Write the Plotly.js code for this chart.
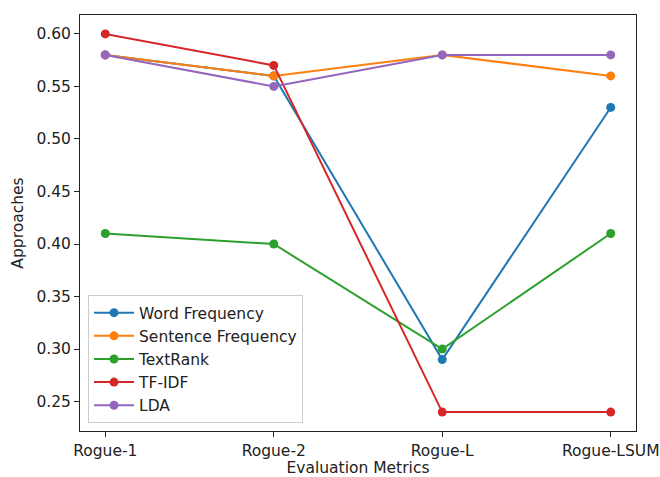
<!DOCTYPE html>
<html><head><meta charset="utf-8">
<script src="https://cdn.plot.ly/plotly-3.0.1.min.js"></script>
<style>body{margin:0;padding:0;background:#fff}#chart{width:660px;height:477px}</style>
</head><body><div id="chart"></div>
<script>
const categories = ["Rogue-1", "Rogue-2", "Rogue-L", "Rogue-LSUM"];
const seriesNames = ["Word Frequency", "Sentence Frequency", "TextRank", "TF-IDF", "LDA"];
const wordFrequency = [0.58, 0.56, 0.29, 0.53];
const sentenceFrequency = [0.58, 0.56, 0.58, 0.56];
const textRank = [0.41, 0.40, 0.30, 0.41];
const tfIdf = [0.60, 0.57, 0.24, 0.24];
const lda = [0.58, 0.55, 0.58, 0.58];
const yTicks = [0.25, 0.30, 0.35, 0.40, 0.45, 0.50, 0.55, 0.60];

const colors = ["#1f77b4", "#ff7f0e", "#2ca02c", "#d62728", "#9467bd"];
const allSeries = [wordFrequency, sentenceFrequency, textRank, tfIdf, lda];
const xIdx = categories.map((c, i) => i);

const traces = allSeries.map((vals, k) => ({
  x: xIdx, y: vals, name: seriesNames[k], type: "scatter", mode: "lines+markers",
  line: {color: colors[k], width: 2},
  marker: {color: colors[k], size: 9}
}));

const font = {family: "DejaVu Sans, sans-serif", size: 15.5, color: "#222"};
const layout = {
  width: 660, height: 477,
  margin: {l: 80, r: 24, t: 15, b: 46},
  paper_bgcolor: "#fff", plot_bgcolor: "#fff",
  font: font,
  showlegend: true,
  legend: {x: 0.0144, y: 0.019, xanchor: "left", yanchor: "bottom",
    bgcolor: "rgba(255,255,255,0.8)", bordercolor: "#cccccc", borderwidth: 1,
    font: font, tracegroupgap: 0, itemwidth: 40},
  xaxis: {
    range: [-0.15, 3.15], tickvals: xIdx, ticktext: categories,
    showgrid: false, zeroline: false, showline: true, mirror: true,
    linecolor: "#222", linewidth: 1, ticks: "outside", ticklen: 5, tickcolor: "#222",
    tickfont: font,
    title: {text: "Evaluation Metrics", font: font, standoff: 8}
  },
  yaxis: {
    range: [0.222, 0.618], tickvals: yTicks, tickformat: ".2f",
    showgrid: false, zeroline: false, showline: true, mirror: true,
    linecolor: "#222", linewidth: 1, ticks: "outside", ticklen: 5, tickcolor: "#222",
    tickfont: font,
    title: {text: "Approaches", font: font, standoff: 8}
  }
};
Plotly.newPlot("chart", traces, layout, {displayModeBar: false, staticPlot: true});
</script></body></html>
